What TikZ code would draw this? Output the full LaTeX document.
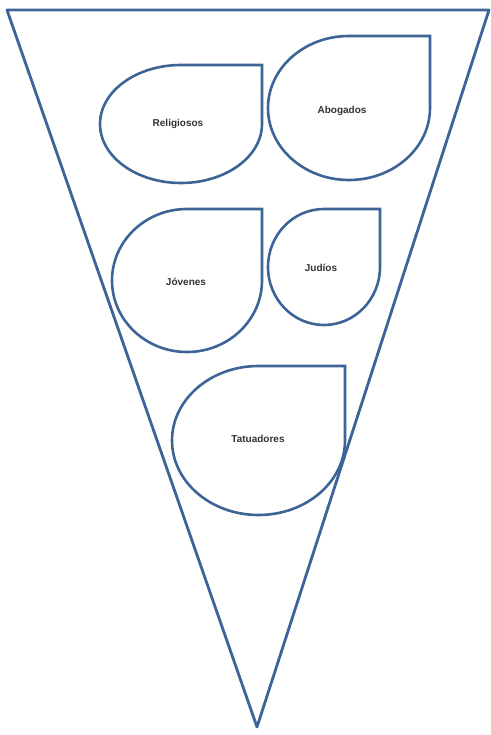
\documentclass[tikz,border=0pt]{standalone}
\usepackage{fontspec}
\setmainfont{Liberation Sans}
\definecolor{edgeblue}{RGB}{60,100,150}
\definecolor{txtgray}{RGB}{50,50,50}
\tikzset{
  outline/.style={draw=edgeblue, line width=2.8pt, line join=round},
  drop/.style={draw=edgeblue, line width=2.6pt},
  lbl/.style={font=\bfseries\fontsize{10}{11}\selectfont, text=txtgray}
}
% teardrop: #1 left, #2 top, #3 right, #4 bottom
\newcommand{\mydrop}[4]{%
  \draw[drop] (#3,{(#2+#4)/2}) arc[start angle=0, end angle=270, x radius={(#3-#1)/2}, y radius={(#4-#2)/2}] -- (#3,#2) -- cycle;}
\begin{document}
\begin{tikzpicture}[x=1pt,y=-1pt]
\useasboundingbox (0,0) rectangle (490,735);
\coordinate (tl) at (7,10);
\coordinate (tr) at (489,10);
\coordinate (ap) at (257,727);
\mydrop{100}{65}{262}{183}
\mydrop{268}{36}{430}{180}
\mydrop{112}{209}{262}{352}
\mydrop{268}{209}{380}{325}
\mydrop{172}{366}{345}{515}
\draw[outline] (tl) -- (tr) -- (ap) -- cycle;
\node[lbl] (a) at (178,124) {Religiosos};
\node[lbl] (b) at (342,111) {Abogados};
\node[lbl] (c) at (186,282) {Jóvenes};
\node[lbl] (d) at (321,268) {Judíos};
\node[lbl] (e) at (258,439) {Tatuadores};
\end{tikzpicture}
\end{document}
